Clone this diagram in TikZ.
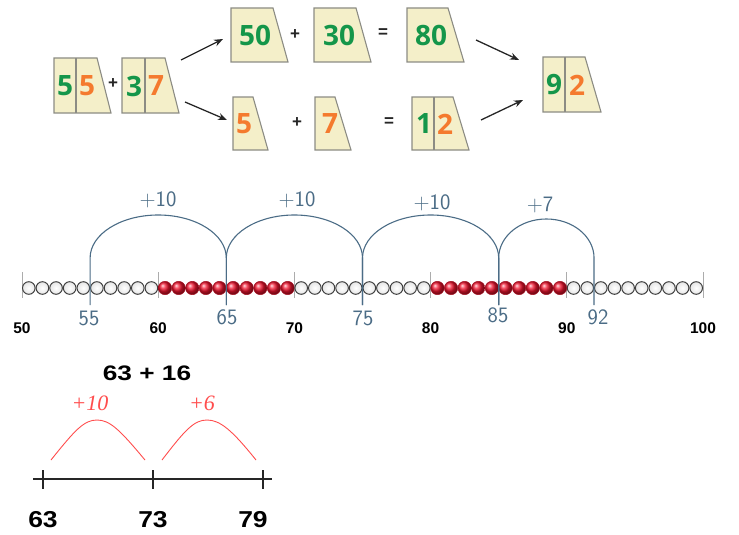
\documentclass[tikz,border=0pt]{standalone}
\usepackage{fontspec}
\setmainfont{Liberation Sans}
\newfontfamily\cardfont{Open Sans}
\newfontfamily\hopfont{Liberation Serif}
\usetikzlibrary{arrows.meta}

\definecolor{cardbg}{HTML}{F4EFC9}
\definecolor{cardline}{HTML}{8C8C84}
\definecolor{dgreen}{HTML}{14964A}
\definecolor{dorange}{HTML}{F47A2E}
\definecolor{jumpblue}{HTML}{4B6C86}
\definecolor{beadred}{HTML}{F0142E}
\definecolor{hopred}{HTML}{FF4D4D}

% trapezoid card: left x, top y, top width, bottom width, height
\newcommand\cardshape[5]{\filldraw[cardedge] (#1,#2) -- ({#1+#3},#2) -- ({#1+#4},{#2+#5}) -- (#1,{#2+#5}) -- cycle;}
% vertical divider of a two-digit card
\newcommand\carddivider[3]{\draw[cardedge] (#1,#2) -- (#1,{#2+#3});}

\tikzset{
  cardedge/.style={draw=cardline, fill=cardbg, line width=1.1pt},
  dig/.style={inner sep=0pt, font=\cardfont\bfseries\fontsize{28}{30}\selectfont},
  gd/.style={dig, text=dgreen},
  od/.style={dig, text=dorange},
  op/.style={inner sep=0pt, font=\bfseries\fontsize{17}{18}\selectfont, text=black!85},
  flow/.style={-{Stealth[length=9pt,width=7pt]}, line width=1.3pt, draw=black!85},
  grayTick/.style={draw=gray!65, line width=0.8pt},
  jump/.style={draw=jumpblue, line width=1.1pt},
  jumplab/.style={inner sep=0pt, text=jumpblue, font=\sffamily\fontsize{22}{23}\selectfont},
  tenlab/.style={inner sep=0pt, font=\bfseries\fontsize{15.5}{16}\selectfont},
  whitebead/.style={inner color=white, outer color=white!90!black, draw=black!75, line width=1pt},
  redbead/.style={ball color=beadred, draw=beadred!70!black, line width=0.5pt},
  hop/.style={draw=hopred, line width=0.9pt},
  hoplab/.style={inner sep=0pt, text=hopred, font=\hopfont\itshape\fontsize{22}{24}\selectfont},
  bignum/.style={inner sep=0pt, font=\bfseries\fontsize{23}{25}\selectfont},
}

\begin{document}
\begin{tikzpicture}[x=1pt,y=-1pt]
\useasboundingbox (0,0) rectangle (739,535);

% ---------- place-value cards ----------
\cardshape{54}{58}{43}{57}{55}  \carddivider{76}{58}{55}
\node[gd] (c55a) at (65,86) {5};
\node[od] (c55b) at (87,86) {5};
\node[op] (p1) at (113,84) {+};
\cardshape{122}{58}{43}{57}{55} \carddivider{145}{58}{55}
\node[gd] (c37a) at (134,86) {3};
\node[od] (c37b) at (156,86) {7};

\cardshape{231}{8}{42}{57}{54}
\node[gd] (c50) at (255,35) {50};
\node[op] (p2) at (295,35) {+};
\cardshape{314}{8}{42}{57}{54}
\node[gd] (c30) at (339,35) {30};
\node[op] (e1) at (383,33) {=};
\cardshape{407}{8}{41}{57}{54}
\node[gd] (c80) at (431,35) {80};

\cardshape{233}{97}{20}{35}{53}
\node[od] (c5) at (244,124) {5};
\node[op] (p3) at (297,123) {+};
\cardshape{315}{97}{20}{36}{53}
\node[od] (c7) at (330,124) {7};
\node[op] (e2) at (389,122) {=};
\cardshape{412}{97}{41}{57}{53} \carddivider{434}{97}{53}
\node[gd] (c12a) at (424,124) {1};
\node[od] (c12b) at (445,124) {2};

\cardshape{543}{57}{42}{58}{55} \carddivider{565}{57}{55}
\node[gd] (c92a) at (554,85) {9};
\node[od] (c92b) at (577,85) {2};

\coordinate (a1s) at (181,60);  \coordinate (a1e) at (223,39);
\coordinate (a2s) at (185,102); \coordinate (a2e) at (227,120);
\coordinate (a3s) at (476,40);  \coordinate (a3e) at (519,60);
\coordinate (a4s) at (481,120); \coordinate (a4e) at (523,100);
\draw[flow] (a1s) -- (a1e);
\draw[flow] (a2s) -- (a2e);
\draw[flow] (a3s) -- (a3e);
\draw[flow] (a4s) -- (a4e);

% ---------- bead number line 50..100 ----------
\foreach \n in {50,60,...,100}{
  \draw[grayTick] ({22+(\n-50)*13.62},272) -- ({22+(\n-50)*13.62},298);
}
\foreach \k in {1,...,50}{
  \pgfmathtruncatemacro\isred{((\k>10)&&(\k<21))||((\k>30)&&(\k<41))}
  \ifnum\isred=1
    \shadedraw[redbead] ({22+(\k-0.5)*13.62},288) circle (6.7pt);
  \else
    \shadedraw[whitebead] ({22+(\k-0.5)*13.62},288) circle (6.3pt);
  \fi
}
\foreach \n in {50,60,...,100}{
  \node[tenlab] (t\n) at ({22+(\n-50)*13.62},328) {\n};
}

% jumps
\foreach \a/\b/\h/\lx/\ly/\lab in {55/65/43/158/200/+10, 65/75/43/297/200/+10, 75/85/43/432/203/+10, 85/92/39/540/205/+7}{
  \draw[jump] ({22+(\a-50)*13.62},305) -- ({22+(\a-50)*13.62},258)
     arc[start angle=180, end angle=360, x radius={(\b-\a)*6.81}, y radius=\h]
     -- ({22+(\b-50)*13.62},305);
  \node[jumplab] at (\lx,\ly) {\lab};
}
\node[jumplab] (j55) at (89,318) {55};
\node[jumplab] (j65) at (227,317) {65};
\node[jumplab] (j75) at (363,318) {75};
\node[jumplab] (j85) at (498,315) {85};
\node[jumplab] (j92) at (598,317) {92};

% ---------- 63 + 16 ----------
\node[bignum, font=\bfseries\fontsize{21}{23}\selectfont] (sum) at (147,373) {\scalebox{1.25}[1]{63 + 16}};
\node[hoplab] (h10) at (90,403) {+10};
\node[hoplab] (h6) at (202,403) {+6};
\draw[hop] (51,460) .. controls (75,430) and (84,420) .. (97,420) .. controls (110,420) and (120,430) .. (145,460);
\draw[hop] (162,460) .. controls (185,430) and (194,420) .. (207,420) .. controls (220,420) and (232,430) .. (256,460);

\coordinate (nlL) at (33,479);
\coordinate (nlR) at (272,479);
\draw[line width=1.1pt, draw=black!85] (nlL) -- (nlR);
\foreach \x in {43,153,263}{
  \draw[line width=1.1pt, draw=black!85] (\x,470) -- (\x,489);
}
\node[bignum] (n63) at (43,520) {\scalebox{1.15}[1]{63}};
\node[bignum] (n73) at (153,520) {\scalebox{1.15}[1]{73}};
\node[bignum] (n79) at (253,520) {\scalebox{1.15}[1]{79}};
\end{tikzpicture}
\end{document}
